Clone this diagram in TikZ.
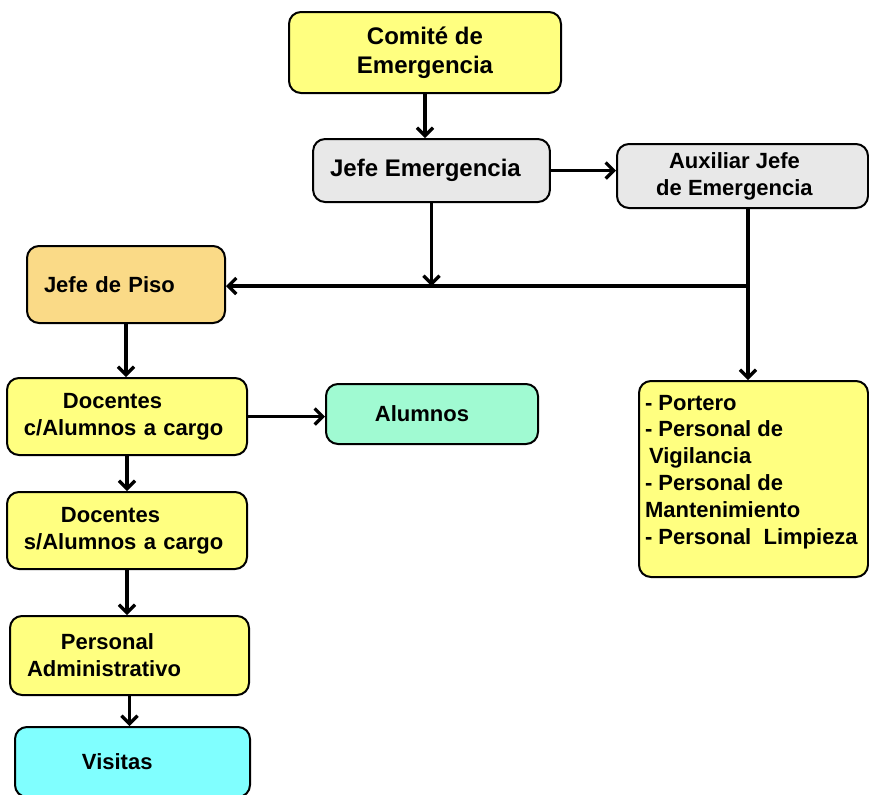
\documentclass[tikz,border=0pt]{standalone}
\usepackage{fontspec}
\setmainfont{Liberation Sans}
\usetikzlibrary{arrows.meta}

\definecolor{boxyellow}{RGB}{255,255,128}
\definecolor{boxgrey}{RGB}{232,232,232}
\definecolor{boxorange}{RGB}{250,218,135}
\definecolor{boxmint}{RGB}{160,250,210}
\definecolor{boxcyan}{RGB}{128,255,255}

\tikzset{
  box/.style={draw, line width=1pt, rounded corners=6pt, inner xsep=8.5pt, inner ysep=2pt,
    font=\bfseries\fontsize{11}{13.5}\selectfont},
  cbox/.style={box, align=center},
  lbox/.style={box, align=left},
  link/.style={line width=1.6pt, line cap=rect},
  arr/.style={line width=1.6pt, -{Straight Barb[length=4pt,width=8pt]}},
}

\begin{document}
\begin{tikzpicture}[x=0.5pt, y=-0.5pt]
\useasboundingbox (0,0) rectangle (869,794);
% top of the chart
\node[cbox, fill=boxyellow, minimum width=136pt, minimum height=40.5pt,
  font=\bfseries\fontsize{12}{14.5}\selectfont] (comite) at (425,52.5) {Comité de\\Emergencia};
\node[cbox, fill=boxgrey, minimum width=117.5pt, minimum height=31.5pt,
  font=\bfseries\fontsize{12}{14.5}\selectfont] (jefeem) at (431.5,170.5) {Jefe Emergencia\hspace*{6pt}};
\node[cbox, fill=boxgrey, minimum width=125.5pt, minimum height=32pt] (aux) at (742.5,176) {Auxiliar Jefe\hspace*{8pt}\\de Emergencia\hspace*{8pt}};
% left column
\node[lbox, fill=boxorange, text width=82pt, minimum height=38.5pt] (piso) at (126,284.5) {Jefe de Piso};
\node[lbox, fill=boxyellow, text width=103pt, minimum height=38.5pt] (doccon) at (127,416.5) {\hspace*{19.5pt}Docentes\\c/Alumnos a cargo};
\node[cbox, fill=boxmint, minimum width=106pt, minimum height=30pt] (alumnos) at (432,414) {Alumnos\hspace*{10pt}};
\node[lbox, fill=boxyellow, text width=103pt, minimum height=38.5pt] (docsin) at (127,530.5) {\hspace*{18.5pt}Docentes\\s/Alumnos a cargo};
\node[lbox, fill=boxyellow, text width=102.5pt, minimum height=39.5pt] (admin) at (129.5,655.5) {\hspace*{17pt}Personal\\Administrativo};
\node[lbox, fill=boxcyan, text width=100.5pt, minimum height=35pt] (visitas) at (132.5,762) {\hspace*{25pt}Visitas};
% right box
\node[box, fill=boxyellow, inner xsep=3pt, inner ysep=7pt, font=\bfseries\fontsize{11}{13.4}\selectfont] (staff) at (753.5,479)
  {\begin{minipage}[t][84pt][t]{108.5pt}\raggedright
   - Portero\\
   - Personal de\\
   \hspace*{2pt}Vigilancia\\
   - Personal de\\
   Mantenimiento\\
   - Personal~~Limpieza
   \end{minipage}};

\coordinate (drop) at (431.5,286);
\coordinate (bend) at (748,286);

\draw[arr] (comite.south) -- (comite.south |- jefeem.north);
\draw[arr] (jefeem.east) -- (jefeem.east -| aux.west);
\draw[arr] (jefeem.south) -- (drop);
\draw[link] (aux.south -| bend) -- (bend) -- (drop);
\draw[arr] (bend) -- (bend -| piso.east);
\draw[arr] (bend) -- (bend |- staff.north);
\draw[arr] (piso.south) -- (piso.south |- doccon.north);
\draw[arr] (doccon.east) -- (doccon.east -| alumnos.west);
\draw[arr] (doccon.south) -- (doccon.south |- docsin.north);
\draw[arr] (docsin.south) -- (docsin.south |- admin.north);
\draw[arr] (admin.south) -- (admin.south |- visitas.north);
\end{tikzpicture}
\end{document}
